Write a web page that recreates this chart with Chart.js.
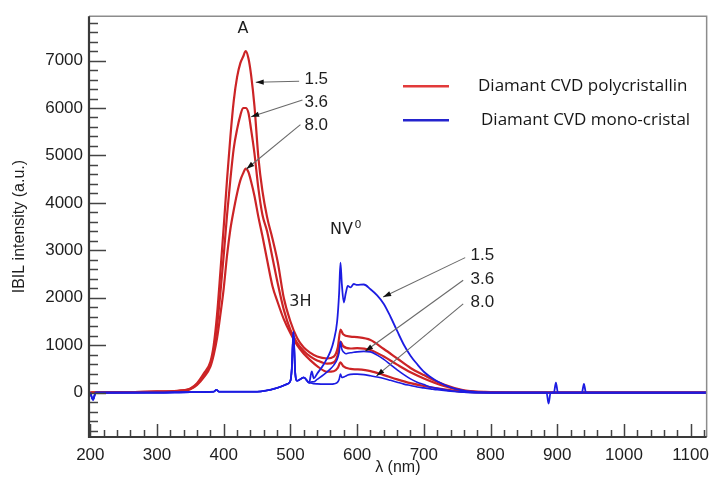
<!DOCTYPE html>
<html>
<head>
<meta charset="utf-8">
<script src="https://cdn.jsdelivr.net/npm/chart.js@4.4.1/dist/chart.umd.min.js"></script>
<style>
html, body { margin: 0; padding: 0; background: #fff; }
</style>
</head>
<body>
<canvas id="myChart" width="717" height="482"></canvas>
<script>
// ---- data ----
const xTicks = [200, 300, 400, 500, 600, 700, 800, 900, 1000, 1100];
const yTicks = [0, 1000, 2000, 3000, 4000, 5000, 6000, 7000];

const redNm = [200, 250, 300, 330, 350, 360, 370, 380, 385, 390, 395, 400, 405, 410, 415, 420, 425, 429, 433, 437, 441, 446, 452, 458, 465, 473, 481, 490, 500, 510, 520, 530, 540, 555, 565, 571, 575, 579, 590, 600, 620, 640, 660, 680, 700, 730, 760, 800, 850, 900, 950, 1000, 1050, 1100, 1124];
const poly15 = [0, 10, 20, 40, 90, 200, 400, 650, 1000, 1650, 2550, 3500, 4500, 5400, 6150, 6650, 6950, 7080, 7200, 7050, 6700, 6050, 4950, 4250, 3700, 3250, 2750, 2000, 1500, 1150, 950, 840, 760, 720, 760, 950, 1330, 1230, 1180, 1170, 1110, 920, 720, 520, 370, 170, 50, 10, 0, 0, 0, 0, 0, 0, 0];
const poly36 = [0, 10, 20, 35, 80, 180, 360, 600, 900, 1400, 2100, 2900, 3750, 4500, 5150, 5550, 5850, 6000, 6000, 5900, 5550, 5050, 4300, 3750, 3400, 2850, 2300, 1750, 1320, 1050, 880, 760, 680, 610, 640, 800, 1075, 980, 930, 940, 900, 760, 590, 430, 300, 140, 40, 10, 0, 0, 0, 0, 0, 0, 0];
const poly80 = [0, 10, 20, 30, 70, 160, 320, 550, 800, 1150, 1650, 2200, 2900, 3450, 3850, 4200, 4480, 4620, 4720, 4650, 4450, 4150, 3700, 3300, 2800, 2250, 1900, 1550, 1250, 1000, 820, 680, 560, 440, 450, 520, 640, 560, 500, 490, 455, 370, 280, 200, 140, 70, 20, 0, 0, 0, 0, 0, 0, 0, 0];

const blueNm = [200, 204, 208, 250, 300, 350, 385, 389, 393, 450, 480, 495, 500, 502, 504.5, 507, 510, 520, 528, 532, 535, 540, 550, 560, 565, 570, 573, 575, 577, 580, 583, 586, 590, 595, 600, 610, 620, 630, 640, 650, 660, 670, 680, 690, 700, 710, 720, 740, 760, 780, 800, 850, 884, 887, 890, 895, 898, 901, 937, 940, 943, 1000, 1050, 1100, 1124];
const mono15 = [0, -150, 0, 0, 0, 10, 20, 60, 20, 20, 100, 180, 250, 500, 1285, 450, 250, 320, 210, 450, 300, 400, 600, 870, 1100, 1500, 2100, 2740, 2300, 1900, 2100, 2250, 2220, 2290, 2270, 2280, 2180, 2050, 1870, 1600, 1300, 1010, 780, 600, 440, 330, 240, 110, 40, 10, 0, 0, 0, -230, 0, 0, 210, 0, 0, 185, 0, 0, 0, 0, 0];
const mono36 = [0, -150, 0, 0, 0, 10, 20, 60, 20, 20, 100, 180, 250, 500, 1285, 450, 250, 320, 210, 230, 230, 280, 380, 500, 580, 700, 850, 1075, 920, 850, 820, 830, 840, 850, 860, 870, 860, 790, 700, 590, 480, 380, 290, 220, 170, 120, 90, 40, 10, 0, 0, 0, 0, 0, 0, 0, 0, 0, 0, 0, 0, 0, 0, 0, 0];
const mono80 = [0, -150, 0, 0, 0, 10, 20, 60, 20, 20, 100, 180, 250, 500, 1285, 450, 250, 320, 210, 200, 190, 185, 180, 180, 185, 210, 280, 390, 320, 330, 350, 370, 385, 390, 390, 380, 355, 330, 300, 260, 220, 180, 150, 120, 100, 80, 60, 30, 10, 0, 0, 0, 0, 0, 0, 0, 0, 0, 0, 0, 0, 0, 0, 0, 0];

// annotations: [nm, intensity]
const doseLabels = ["1.5", "3.6", "8.0"];
const polyTextAt = [[521, 6600], [521, 6110], [521, 5630]];
const polyArrowFrom = [[513, 6564], [518, 6169], [515, 5650]];
const polyArrowTo = [[448, 6543], [441, 5816], [434, 4715]];
const monoTextAt = [[770, 2888], [770, 2389], [770, 1911]];
const monoArrowFrom = [[762, 2846], [759, 2368], [759, 1870]];
const monoArrowTo = [[639, 2015], [612, 873], [629, 353]];
const peakLabels = [["A", 429, 7660], ["3H", 515, 1911]];

const legendNames = ["Diamant CVD polycristallin", "Diamant CVD mono-cristal"];

const RED = "rgb(204, 36, 38)";
const BLUE = "rgb(28, 28, 226)";
const TEXT = "#1e1e1e";

function toPoints(xs, ys) {
    return xs.map((x, i) => ({ x: x, y: ys[i] }));
}

function drawArrow(ctx, x1, y1, x2, y2) {
    ctx.strokeStyle = "#6a6a6a";
    ctx.lineWidth = 1.1;
    ctx.beginPath();
    ctx.moveTo(x1, y1);
    ctx.lineTo(x2, y2);
    ctx.stroke();
    const a = Math.atan2(y2 - y1, x2 - x1);
    const c = Math.cos(a), s = Math.sin(a);
    ctx.fillStyle = "#111";
    ctx.beginPath();
    ctx.moveTo(x2, y2);
    ctx.lineTo(x2 - 8 * c + 2.6 * s, y2 - 8 * s - 2.6 * c);
    ctx.lineTo(x2 - 8 * c - 2.6 * s, y2 - 8 * s + 2.6 * c);
    ctx.closePath();
    ctx.fill();
}

const framePlugin = {
    id: "frame",
    afterDatasetsDraw(chart) {
        const ctx = chart.ctx;
        const { left, right, top, bottom } = chart.chartArea;
        const x = chart.scales.x;
        const y = chart.scales.y;
        ctx.save();
        // light top / right border
        ctx.strokeStyle = "#8c8c8c";
        ctx.lineWidth = 1.5;
        ctx.beginPath();
        ctx.moveTo(left, top);
        ctx.lineTo(right, top);
        ctx.lineTo(right, bottom);
        ctx.stroke();
        // inward ticks
        ctx.strokeStyle = "#444";
        ctx.lineWidth = 1.5;
        ctx.beginPath();
        for (let v = -800; v <= 7800; v += 200) {
            const py = Math.round(y.getPixelForValue(v)) + 0.5;
            const len = v % 1000 === 0 ? 17 : 9;
            ctx.moveTo(left, py);
            ctx.lineTo(left + len, py);
        }
        for (let v = 200; v <= 1120; v += 20) {
            const px = Math.round(x.getPixelForValue(v)) + 0.5;
            const len = v % 100 === 0 ? 13 : 7;
            ctx.moveTo(px, bottom);
            ctx.lineTo(px, bottom - len);
        }
        ctx.stroke();
        // dark left / bottom axes
        ctx.strokeStyle = "#3a3a3a";
        ctx.lineWidth = 2.2;
        ctx.beginPath();
        ctx.moveTo(left, top);
        ctx.lineTo(left, bottom);
        ctx.lineTo(right, bottom);
        ctx.stroke();

        // dose labels and arrows
        ctx.font = "17px 'Liberation Sans', Arial, sans-serif";
        ctx.textBaseline = "middle";
        ctx.textAlign = "left";
        for (let i = 0; i < doseLabels.length; i++) {
            drawArrow(ctx,
                x.getPixelForValue(polyArrowFrom[i][0]), y.getPixelForValue(polyArrowFrom[i][1]),
                x.getPixelForValue(polyArrowTo[i][0]), y.getPixelForValue(polyArrowTo[i][1]));
            drawArrow(ctx,
                x.getPixelForValue(monoArrowFrom[i][0]), y.getPixelForValue(monoArrowFrom[i][1]),
                x.getPixelForValue(monoArrowTo[i][0]), y.getPixelForValue(monoArrowTo[i][1]));
            ctx.fillStyle = TEXT;
            ctx.fillText(doseLabels[i], x.getPixelForValue(polyTextAt[i][0]), y.getPixelForValue(polyTextAt[i][1]));
            ctx.fillText(doseLabels[i], x.getPixelForValue(monoTextAt[i][0]), y.getPixelForValue(monoTextAt[i][1]));
        }

        // peak names
        ctx.font = "16px 'DejaVu Sans', sans-serif";
        ctx.textAlign = "center";
        ctx.fillStyle = TEXT;
        peakLabels.forEach(p => {
            ctx.fillText(p[0], x.getPixelForValue(p[1]), y.getPixelForValue(p[2]));
        });
        const nvX = x.getPixelForValue(576.5);
        const nvY = y.getPixelForValue(3428);
        ctx.fillText("NV", nvX, nvY);
        ctx.font = "11px 'DejaVu Sans', sans-serif";
        ctx.textAlign = "left";
        ctx.fillText("0", nvX + 13, nvY - 5);

        // legend inside the plot
        ctx.font = "17px 'Open Sans', sans-serif";
        ctx.lineWidth = 2.5;
        const legendColors = ["rgb(226, 58, 58)", "rgb(36, 36, 206)"];
        const legendRows = [top + 70, top + 104];
        const textLeft = [left + 389, left + 392];
        for (let i = 0; i < legendNames.length; i++) {
            ctx.strokeStyle = legendColors[i];
            ctx.beginPath();
            ctx.moveTo(left + 314, legendRows[i]);
            ctx.lineTo(left + 360, legendRows[i]);
            ctx.stroke();
            ctx.fillStyle = "#161616";
            ctx.fillText(legendNames[i], textLeft[i], legendRows[i]);
        }
        ctx.restore();
    }
};

const datasets = [
    { data: toPoints(blueNm, mono15), borderColor: BLUE, borderWidth: 1.8, order: 1 },
    { data: toPoints(blueNm, mono36), borderColor: BLUE, borderWidth: 1.6, order: 2 },
    { data: toPoints(blueNm, mono80), borderColor: BLUE, borderWidth: 1.6, order: 3 },
    { data: toPoints(redNm, poly15), borderColor: RED, borderWidth: 2.2, order: 4 },
    { data: toPoints(redNm, poly36), borderColor: RED, borderWidth: 2.2, order: 5 },
    { data: toPoints(redNm, poly80), borderColor: RED, borderWidth: 2.2, order: 6 }
];

const axisFont = { family: "'Liberation Sans', Arial, sans-serif", size: 17 };
const titleFont = { family: "'Liberation Sans', Arial, sans-serif", size: 16 };

new Chart(document.getElementById("myChart"), {
    type: "line",
    data: { datasets: datasets },
    plugins: [framePlugin],
    options: {
        responsive: false,
        animation: false,
        devicePixelRatio: 1,
        layout: { padding: { top: 10, right: 3, left: 0, bottom: 0 } },
        elements: {
            point: { radius: 0 },
            line: { cubicInterpolationMode: "monotone", fill: false }
        },
        plugins: {
            legend: { display: false },
            tooltip: { enabled: false }
        },
        scales: {
            x: {
                type: "linear",
                min: 198,
                max: 1124,
                afterBuildTicks: s => { s.ticks = xTicks.map(v => ({ value: v })); },
                afterFit: s => { s.height = 45; },
                grid: { display: false, drawTicks: false },
                border: { display: false },
                ticks: { color: TEXT, font: axisFont, padding: 8, maxRotation: 0, callback: v => String(v) },
                title: { display: true, text: "λ (nm)", color: TEXT, font: titleFont, padding: { top: 0, bottom: 5 } }
            },
            y: {
                type: "linear",
                min: -935,
                max: 7935,
                afterBuildTicks: s => { s.ticks = yTicks.map(v => ({ value: v })); },
                afterFit: s => { s.width = 89; },
                grid: { display: false, drawTicks: false },
                border: { display: false },
                ticks: { color: TEXT, font: axisFont, padding: 6, callback: v => String(v) },
                title: { display: true, text: "IBIL intensity (a.u.)", color: TEXT, font: titleFont, padding: { top: 10, bottom: 0 } }
            }
        }
    }
});
</script>
</body>
</html>
